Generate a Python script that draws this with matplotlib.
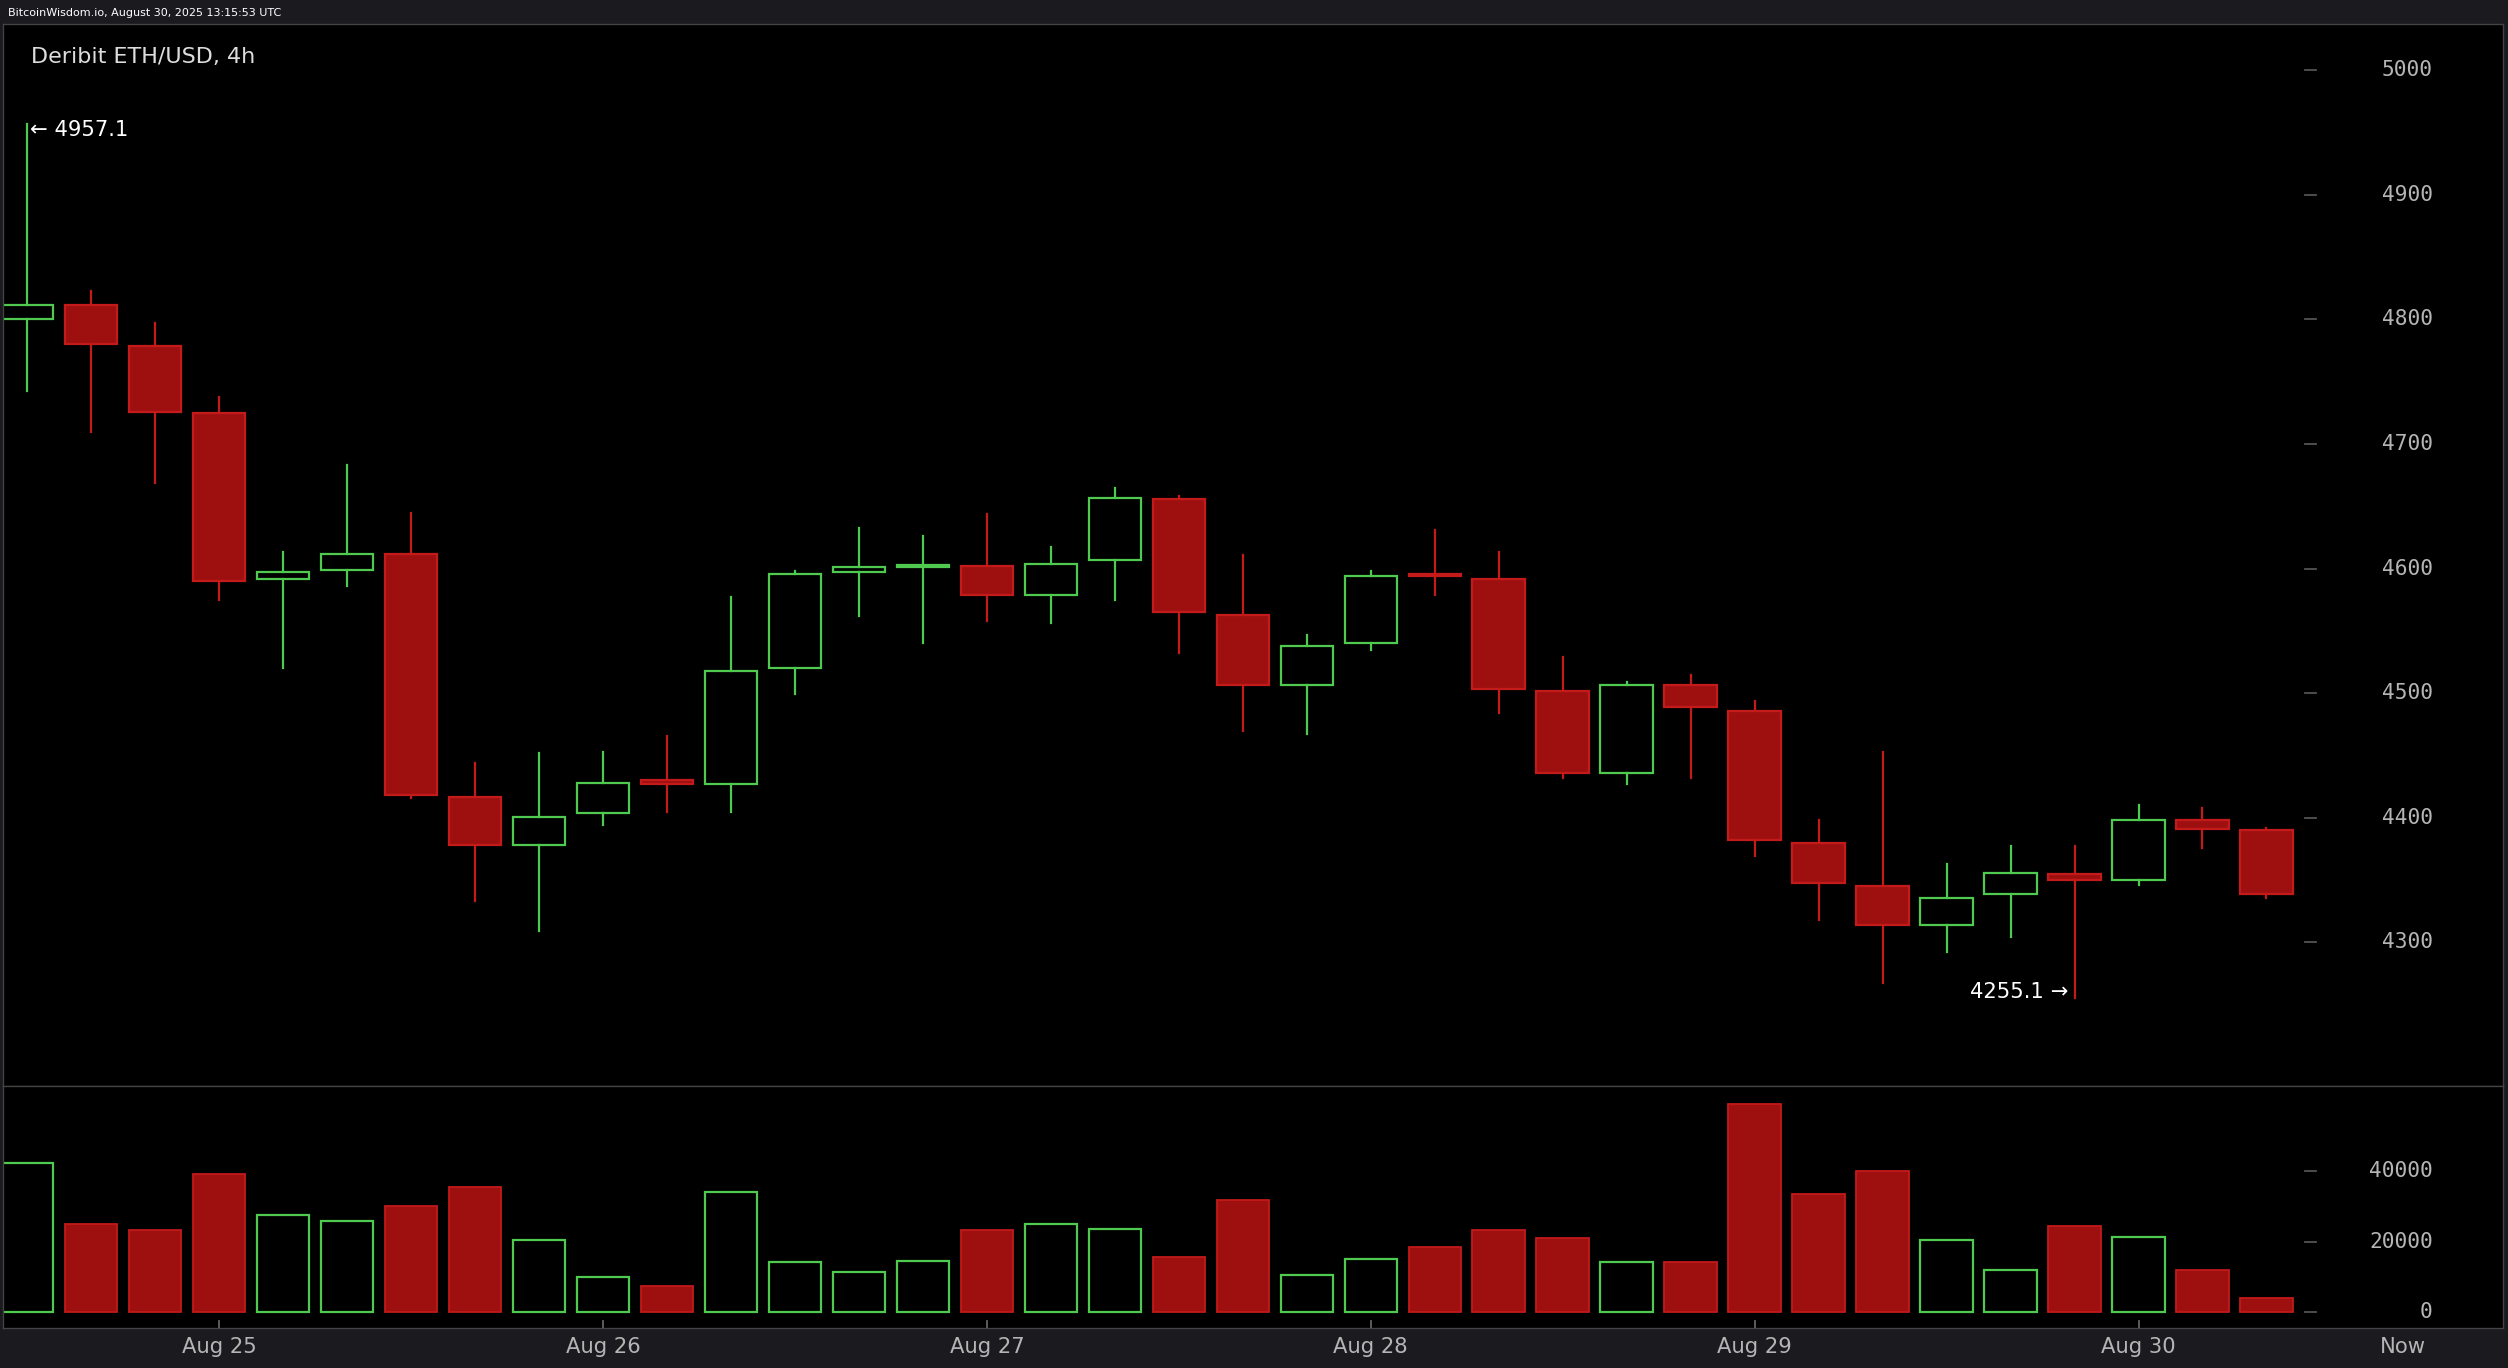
import matplotlib
matplotlib.use("Agg")
import matplotlib.pyplot as plt
from matplotlib.patches import Rectangle
from matplotlib.transforms import blended_transform_factory as btf

opens  = [4800,4812,4779,4725,4592,4599,4612,4417,4378,4404,4430,4427,4520,4597,4601,4602,4579,4607,4656,4563,4507,4540,4596,4592,4502,4436,4507,4486,4380,4345,4314,4339,4355,4350,4398,4390]
highs  = [4957.1,4823,4797,4738,4613,4683,4645,4444,4452,4453,4466,4577,4598,4633,4626,4644,4617,4665,4658,4611,4547,4598,4631,4613,4529,4509,4515,4494,4398,4453,4363,4377,4377,4410,4408,4392]
lows   = [4743,4710,4669,4575,4520,4586,4416,4333,4309,4394,4405,4405,4499,4562,4540,4558,4556,4575,4532,4470,4467,4535,4579,4484,4432,4427,4432,4369,4318,4267,4292,4304,4255.1,4346,4376,4336]
closes = [4812,4780,4726,4590,4597,4612,4418,4378,4401,4428,4427,4518,4596,4601,4603,4579,4604,4657,4565,4507,4538,4594,4594,4503,4436,4507,4489,4382,4348,4314,4336,4356,4350,4398,4391,4339]
volumes = [42300,25000,23200,39100,27700,25900,30000,35500,20500,10000,7300,34100,14100,11400,14500,23200,25000,23600,15500,31800,10500,15000,18600,23200,20900,14100,14100,59100,33600,40000,20500,11800,24500,21400,11800,4100]
day_labels = ["Aug 25","Aug 26","Aug 27","Aug 28","Aug 29","Aug 30","Now"]
day_pos = [3,9,15,21,27,33,37.125]
price_ticks = [4300,4400,4500,4600,4700,4800,4900,5000]
vol_ticks = [0,20000,40000]

GREEN = "#4fc94f"; RED_F = "#9e1010"; RED_E = "#c41a1a"
W, H = 1568, 855
fig = plt.figure(figsize=(2508/160, 1368/160), dpi=160)
fig.patch.set_facecolor("#1b1b1f")
def ax_at(x0,y0,x1,y1):
    return fig.add_axes([x0/W, 1-y1/H, (x1-x0)/W, (y1-y0)/H])
ax = ax_at(2,15,1565,679)
axv = ax_at(2,679,1565,830)
xl = (-0.375, 38.7)
for a in (ax,axv):
    a.set_facecolor("black")
    a.set_xlim(*xl)
    a.set_xticks([]); a.set_yticks([])
    for s in a.spines.values(): s.set_color("#444444"); s.set_linewidth(0.6)
ax.set_ylim(4184.4, 5037.2)
axv.set_ylim(-4545, 64100)
bw = 0.82
for i,(o,h,l,c,v) in enumerate(zip(opens,highs,lows,closes,volumes)):
    up = c >= o
    col = GREEN if up else RED_E
    lo, hi = min(o,c), max(o,c)
    ax.plot([i,i],[hi,h],color=col,lw=1)
    ax.plot([i,i],[l,lo],color=col,lw=1)
    ht = max(hi-lo,0.8)
    if up:
        ax.add_patch(Rectangle((i-bw/2,lo),bw,ht,facecolor="black",edgecolor=GREEN,lw=1))
        axv.add_patch(Rectangle((i-bw/2,0),bw,v,facecolor="black",edgecolor=GREEN,lw=1))
    else:
        ax.add_patch(Rectangle((i-bw/2,lo),bw,ht,facecolor=RED_F,edgecolor=RED_E,lw=1))
        axv.add_patch(Rectangle((i-bw/2,0),bw,v,facecolor=RED_F,edgecolor=RED_E,lw=0.8))
tc = "#b5b5b5"
for a,ticks in ((ax,price_ticks),(axv,vol_ticks)):
    tr = btf(a.transAxes, a.transData)
    for t in ticks:
        a.plot([(1441-2)/1563,(1448-2)/1563],[t,t],transform=tr,color="#555555",lw=0.8)
        a.text((1521-2)/1563,t,str(t),transform=tr,ha="right",va="center",color=tc,fontsize=9.5,family="DejaVu Sans Mono")
i_hi = highs.index(max(highs)); i_lo = lows.index(min(lows))
ax.text(i_hi+0.05, highs[i_hi]-5, "← 4957.1", color="white", fontsize=9.5, va="center", ha="left")
ax.text(i_lo-0.1, lows[i_lo]+5, "4255.1 →", color="white", fontsize=9.5, va="center", ha="right")
ax.text(0.011, 0.978, "Deribit ETH/USD, 4h", transform=ax.transAxes, color="#dddddd", fontsize=10, va="top")
for p,lbl in zip(day_pos,day_labels):
    x = (p-xl[0])/(xl[1]-xl[0])*(1563)+2
    fig.text(x/W, 1-842/H, lbl, color=tc, fontsize=9.5, ha="center", va="center")
    if lbl != "Now":
        axv.plot([p,p],[-4545,-2500],color="#666666",lw=0.8)
fig.text(5/W, 1-8/H, "BitcoinWisdom.io, August 30, 2025 13:15:53 UTC", color="white", fontsize=5, va="center")
fig.savefig("out.png", dpi=160, facecolor=fig.get_facecolor())
